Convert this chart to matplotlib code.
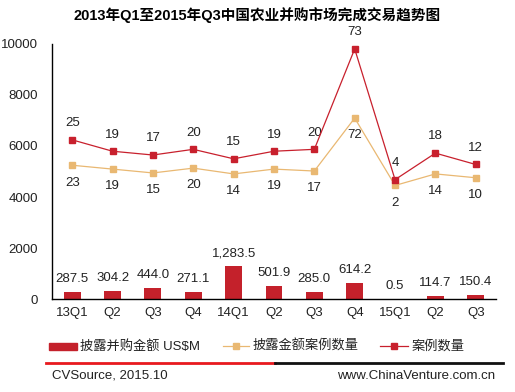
import matplotlib
matplotlib.use("Agg")
import matplotlib.pyplot as plt
from matplotlib.lines import Line2D
from matplotlib.patches import Rectangle

plt.rcParams['font.family'] = ['Liberation Sans', 'Noto Sans CJK SC', 'DejaVu Sans']

categories = ["13Q1", "Q2", "Q3", "Q4", "14Q1", "Q2", "Q3", "Q4", "15Q1", "Q2", "Q3"]
amount = [287.5, 304.2, 444.0, 271.1, 1283.5, 501.9, 285.0, 614.2, 0.5, 114.7, 150.4]
amount_labels = ["287.5", "304.2", "444.0", "271.1", "1,283.5", "501.9", "285.0", "614.2", "0.5", "114.7", "150.4"]
disclosed_cases = [23, 19, 15, 20, 14, 19, 17, 72, 2, 14, 10]
cases = [25, 19, 17, 20, 15, 19, 20, 73, 4, 18, 12]

bar_color = "#C4212B"
red_line = "#C8202D"
tan_line = "#E9B872"

fig = plt.figure(figsize=(5.15, 3.92), dpi=100)
ax = fig.add_axes([0.101, 0.2372, 0.862, 0.6506])
x = list(range(len(categories)))

ax.bar(x, amount, width=0.42, color=bar_color, zorder=2)
for xi, v, lab in zip(x, amount, amount_labels):
    ax.annotate(lab, (xi, v), xytext=(0, 5), textcoords="offset points",
                ha="center", va="bottom", fontsize=9.5, color="#222222")

ax.set_xlim(-0.5, len(categories) - 0.5)
ax.set_ylim(0, 10000)
ax.set_yticks([0, 2000, 4000, 6000, 8000, 10000])
ax.set_xticks(x)
ax.set_xticklabels(categories)
ax.tick_params(axis="both", length=0, labelsize=9.5, colors="#222222")
ax.tick_params(axis="y", pad=10)
ax.tick_params(axis="x", pad=6)
for s in ["top", "right"]:
    ax.spines[s].set_visible(False)
for s in ["left", "bottom"]:
    ax.spines[s].set_color("black")
    ax.spines[s].set_linewidth(1.0)

# tan line on its own hidden axis
ax3 = ax.twinx()
ax3.set_ylim(-116, 149)
ax3.plot(x, disclosed_cases, color=tan_line, lw=0.9, marker="s", ms=4, mec=tan_line, mfc=tan_line, zorder=3)
for xi, v in zip(x, disclosed_cases):
    ax3.annotate(str(v), (xi, v), xytext=(0, -12.5), textcoords="offset points",
                 ha="center", va="center", fontsize=9.5, color="#222222")
ax3.axis("off")

# red line on hidden secondary axis
ax2 = ax.twinx()
ax2.set_ylim(-59, 75.6)
ax2.plot(x, cases, color=red_line, lw=0.9, marker="s", ms=4, mec=red_line, mfc=red_line, zorder=4)
for xi, v in zip(x, cases):
    ax2.annotate(str(v), (xi, v), xytext=(0, 12), textcoords="offset points",
                 ha="center", va="center", fontsize=9.5, color="#222222")
ax2.axis("off")

# title
fig.text(0.5, 1 - 15 / 392, "2013年Q1至2015年Q3中国农业并购市场完成交易趋势图",
         ha="center", va="center", fontsize=10.5, fontweight="bold", color="black")

W, H = 515, 392
def fx(px):
    return px / W
def fy(py):
    return 1 - py / H

ly = 346
fig.patches.append(Rectangle((fx(49), fy(ly + 3.5)), fx(28), 7 / H, transform=fig.transFigure,
                             color=bar_color, figure=fig))
fig.text(fx(80), fy(ly), "披露并购金额 US$M", ha="left", va="center", fontsize=9.5, color="#222222")
fig.lines.append(Line2D([fx(223), fx(249)], [fy(ly), fy(ly)], transform=fig.transFigure,
                        color=tan_line, lw=0.9, figure=fig))
fig.lines.append(Line2D([fx(236)], [fy(ly)], transform=fig.transFigure, color=tan_line,
                        marker="s", ms=4, lw=0, figure=fig))
fig.text(fx(253), fy(ly), "披露金额案例数量", ha="left", va="center", fontsize=9.5, color="#222222")
fig.lines.append(Line2D([fx(380), fx(408)], [fy(ly), fy(ly)], transform=fig.transFigure,
                        color=red_line, lw=0.9, figure=fig))
fig.lines.append(Line2D([fx(394)], [fy(ly)], transform=fig.transFigure, color=red_line,
                        marker="s", ms=4, lw=0, figure=fig))
fig.text(fx(412), fy(ly), "案例数量", ha="left", va="center", fontsize=9.5, color="#222222")

# separator line
fig.lines.append(Line2D([fx(46), fx(275)], [fy(363), fy(363)], transform=fig.transFigure,
                        color="#E8191E", lw=2, figure=fig))
fig.lines.append(Line2D([fx(275), fx(503)], [fy(363), fy(363)], transform=fig.transFigure,
                        color="#111111", lw=2, figure=fig))

fig.text(fx(52), fy(376), "CVSource, 2015.10", ha="left", va="center", fontsize=9.5, color="#222222")
fig.text(fx(495), fy(376), "www.ChinaVenture.com.cn", ha="right", va="center", fontsize=9.5, color="#222222")

fig.savefig("out.png", dpi=100, facecolor="white")
